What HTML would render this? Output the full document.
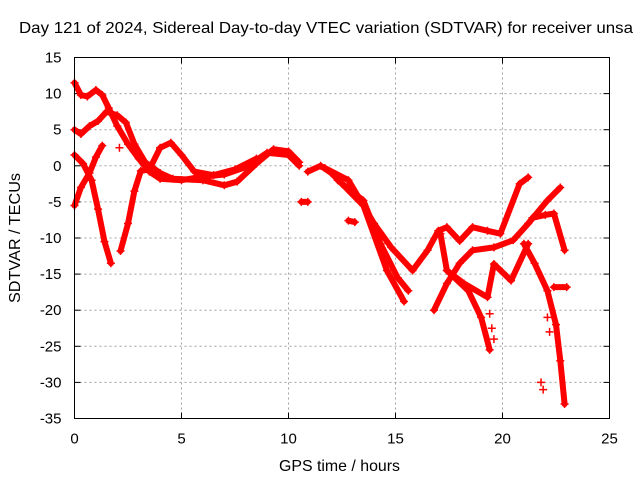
<!DOCTYPE html>
<html><head><meta charset="utf-8"><style>
html,body{margin:0;padding:0;background:#fff;}
svg{display:block;font-family:"Liberation Sans",sans-serif;}
</style></head><body>
<svg id="chart" width="640" height="480" viewBox="0 0 640 480" xmlns="http://www.w3.org/2000/svg">
<text x="19" y="33" font-size="16" textLength="614" lengthAdjust="spacingAndGlyphs" fill="#000">Day 121 of 2024, Sidereal Day-to-day VTEC variation (SDTVAR) for receiver unsa</text>
<text transform="translate(20,238) rotate(-90)" font-size="16" text-anchor="middle" textLength="130" lengthAdjust="spacingAndGlyphs" fill="#000">SDTVAR / TECUs</text>
<text x="279" y="471" font-size="16" textLength="121" lengthAdjust="spacingAndGlyphs" fill="#000">GPS time / hours</text>
<g id="grid"></g>
<g id="ticks"></g>
<g id="series"></g>
<rect x="74.5" y="57.5" width="535" height="361" fill="none" stroke="#000" stroke-width="1"/>
</svg>
<script>
const xTicks=[0,5,10,15,20,25];
const yTicks=[15,10,5,0,-5,-10,-15,-20,-25,-30,-35];
const track1=[[0,11.5],[0.3,9.8],[0.6,9.6],[1,10.5],[1.3,9.8],[1.6,8],[2,5.5],[2.5,3],[3,1],[3.5,-0.8],[4,-1.8],[5,-2],[6,-1.5],[7,-1.2],[8,-0.2],[9,1.8],[10,1.5],[10.5,0]];
const track2=[[0,5],[0.3,4.4],[0.7,5.5],[1.1,6.2],[1.5,7.5],[2,7],[2.4,6],[2.8,3],[3.3,0.5],[4,-1],[4.6,-1.8],[6,-2],[7,-2.7],[7.6,-2.2],[8.5,0.3],[9.3,2.3],[10,2],[10.5,0.5]];
const track3=[[0,-5.5],[0.3,-3],[0.7,-1],[1,1.2],[1.3,2.8]];
const track4=[[0,1.5],[0.4,0.3],[0.8,-2],[1.1,-6],[1.4,-10.5],[1.7,-13.5]];
const track5=[[2.15,-11.8],[2.5,-8],[2.8,-3.5],[3.1,-0.7],[3.5,-0.5],[4,2.5],[4.5,3.2],[5,1.5],[5.6,-0.8],[6.5,-1.3],[7.5,-0.5],[8.5,1]];
const track6=[[10.9,-0.8],[11.5,0],[12,-1],[12.5,-2.5],[13.5,-5.5],[14.6,-14.5],[15.4,-18.8]];
const track7=[[11.7,-0.3],[12.8,-2],[14,-8],[14.8,-11.3],[15.8,-14.5],[16.5,-11.7],[17,-9],[17.4,-8.5],[18,-10.4],[18.6,-8.5],[19.3,-9],[19.9,-9.4],[20.8,-2.5],[21.2,-1.6]];
const track8=[[12.3,-2],[13.5,-4.8],[14.3,-10.8],[15.1,-15.5],[15.6,-17.3]];
const track9=[[16.8,-20],[17.4,-16.3],[18,-13.5],[18.6,-11.7],[19.6,-11.3],[20.5,-10.3],[21.2,-8],[22.1,-4.8],[22.7,-3]];
const track10=[[17.1,-9.4],[17.4,-14.5],[18.4,-17.3],[19,-21],[19.4,-25.5]];
const track11=[[17.4,-14.5],[18.2,-16.3],[19.3,-18.2],[19.6,-13.6],[20.4,-15.9],[21.2,-10.8]];
const track12=[[21.4,-7.2],[22,-6.8],[22.4,-6.6],[22.9,-11.7]];
const track13=[[21,-10.8],[21.5,-13.5],[22.1,-17.3],[22.5,-22],[22.7,-27],[22.9,-33]];
const track14=[[22.4,-16.8],[23,-16.8]];
const track15=[[10.6,-5],[10.9,-5]];
const track16=[[12.8,-7.6],[13.1,-7.8]];
const scatterX=[2.1,19.4,19.5,19.6,21.8,21.9,22.1,22.2];
const scatterY=[2.5,-20.5,-22.5,-24,-30,-31,-21,-23];
const tracks=[track1,track2,track3,track4,track5,track6,track7,track8,track9,track10,track11,track12,track13,track14,track15,track16];

const NS="http://www.w3.org/2000/svg";
const X0=74.5,X1=609.5,Y0=57.5,Y1=418.5;
function xs(v){return X0+(v-0)/(25-0)*(X1-X0);}
function ys(v){return Y0+(15-v)/(15-(-35))*(Y1-Y0);}
function mk(tag,attrs,parent){const e=document.createElementNS(NS,tag);for(const k in attrs)e.setAttribute(k,attrs[k]);parent.appendChild(e);return e;}
const grid=document.getElementById('grid'),ticks=document.getElementById('ticks'),series=document.getElementById('series');
xTicks.forEach(t=>{
  const x=xs(t);
  if(t>0&&t<25){const g=mk('line',{x1:x,y1:Y0,x2:x,y2:Y1,stroke:'#a0a0a0','stroke-dasharray':'2,3'},grid);
  
  }
  mk('line',{x1:x,y1:Y1,x2:x,y2:Y1-6,stroke:'#000'},ticks);
  mk('line',{x1:x,y1:Y0,x2:x,y2:Y0+6,stroke:'#000'},ticks);
  const l=mk('text',{x:x,y:Y1+25,'font-size':15,'text-anchor':'middle'},ticks);l.textContent=t;
  
  
});
yTicks.forEach(t=>{
  const y=ys(t);
  if(t<15&&t>-35){const g=mk('line',{x1:X0,y1:y,x2:X1,y2:y,stroke:'#a0a0a0','stroke-dasharray':'2,3'},grid);
  
  }
  mk('line',{x1:X0,y1:y,x2:X0+6,y2:y,stroke:'#000'},ticks);
  mk('line',{x1:X1,y1:y,x2:X1-6,y2:y,stroke:'#000'},ticks);
  const l=mk('text',{x:X0-13,y:y+5,'font-size':15,'text-anchor':'end'},ticks);l.textContent=t;
  
  
});
function plus(x,y,s){return `M${x-s},${y}H${x+s}M${x},${y-s}V${y+s}`;}
tracks.forEach((tr,i)=>{
  const d=tr.map((p,j)=>(j?'L':'M')+xs(p[0]).toFixed(1)+','+ys(p[1]).toFixed(1)).join('');
  const p=mk('path',{d:d,fill:'none',stroke:'#ff0000','stroke-width':6,'stroke-linejoin':'round','stroke-linecap':'round'},series);
  
  
  const m=mk('path',{d:tr.map(q=>plus(xs(q[0]),ys(q[1]),4)).join(''),stroke:'#ff0000','stroke-width':1.5,fill:'none'},series);
  
  
});
scatterX.forEach((h,i)=>{
  const m=mk('path',{d:plus(xs(h),ys(scatterY[i]),4),stroke:'#ff0000','stroke-width':1.5,fill:'none'},series);
  
  
});
</script>
</body></html>
